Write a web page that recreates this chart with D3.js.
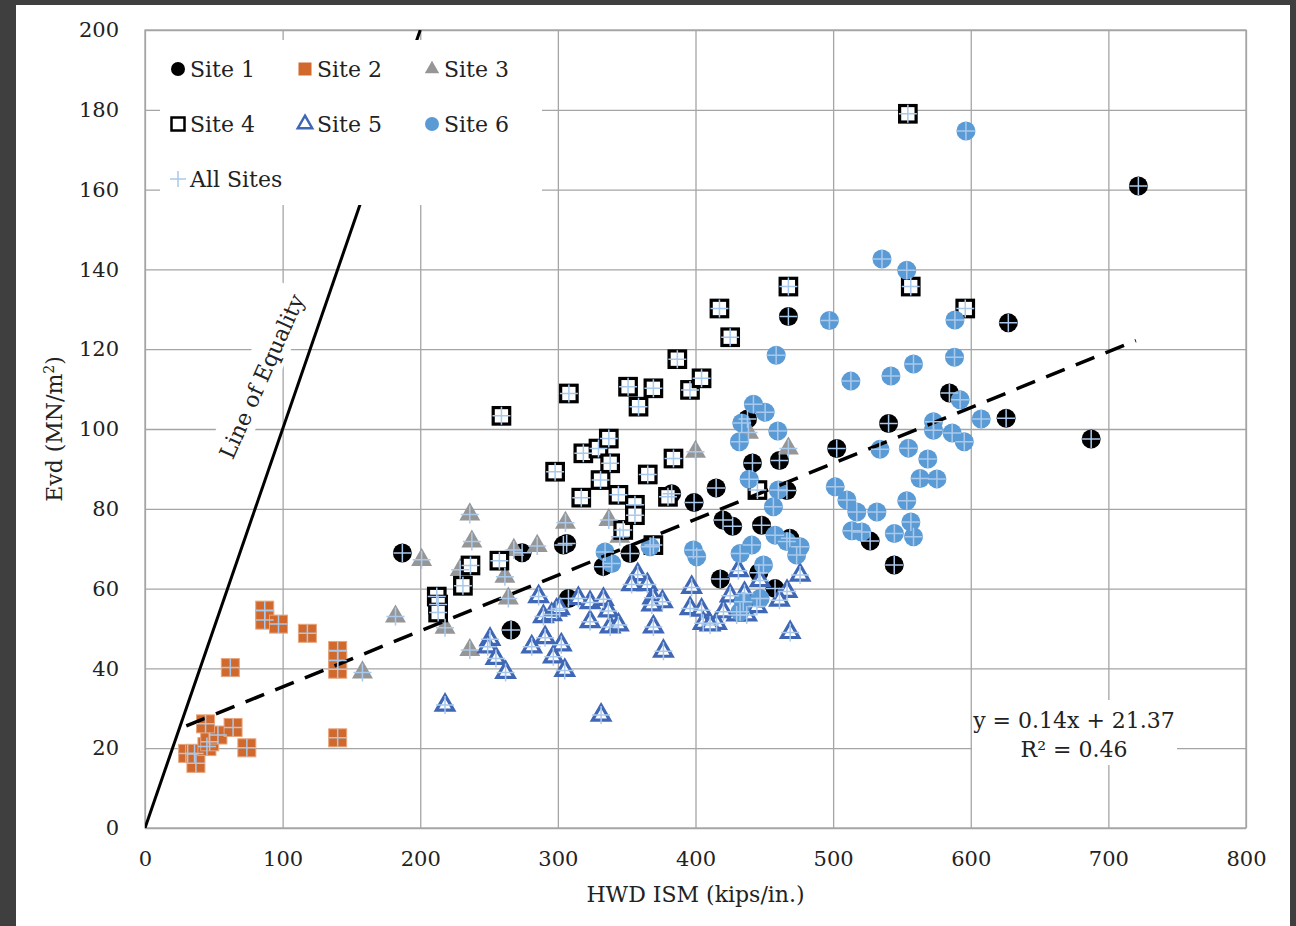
<!DOCTYPE html>
<html>
<head>
<meta charset="utf-8">
<script src="https://cdn.jsdelivr.net/npm/d3@7"></script>
<style>
  body { margin: 0; background: #3f3f3f; }
  #graf { position: absolute; left: 16px; top: 5px; width: 1274px; height: 921px; background: #fff; }
  svg { position: absolute; left: -16px; top: -5px; }
  text { font-family: "DejaVu Serif", serif; fill: #222; }
</style>
</head>
<body>
<div id="graf"></div>
<script>
// Datos (HWD ISM kips/in., Evd MN/m2)
const site1 = [[187,68.9],[266,49.6],[274,69],[304,70.9],[306.4,71.3],[307.7,57.5],[333,65.5],[352.5,68.8],[382.7,83.8],[399,81.6],[415,85.2],[418,62.4],[420,77.2],[427,75.6],[437.8,102.5],[441.4,91.5],[446,64],[448,75.9],[457.8,60],[461,92.1],[466.4,84.6],[468.5,72.6],[467.5,128.2],[502.6,95.1],[526.9,71.9],[544.4,65.9],[540.3,101.4],[584.5,109],[625.7,102.7],[627.3,126.6],[687.5,97.5],[721.8,160.9]]
const site2 = [[31,18.7],[36,18.7],[37,16.2],[45,20.4],[47,21.6],[53,23.3],[44,26.1],[64,25.2],[74,20.1],[62,40.2],[87,54.6],[87,52.1],[97,51.1],[118,48.8],[140,44.5],[140,42],[140,39.8],[140,22.6]]
const site3 = [[158,39],[182,53],[201,67.2],[218,50.2],[229,64.7],[236,78.6],[237.5,71.8],[236,44.6],[261.5,63],[264,57.5],[268,69.7],[285,70.7],[305.5,76.5],[337,77.2],[345,73],[400,94.3],[438.5,99.1],[467.5,95.1]]
const site4 = [[212,58],[213,56],[213,54],[231,60.7],[236.5,65.8],[257.5,67],[259,103.3],[298,89.3],[308,108.9],[317,82.8],[318.5,93.9],[329.5,95.1],[331,87.2],[337,97.6],[338,91.4],[344,83.5],[347.5,74.7],[351,110.6],[356,81],[356,78.4],[358.6,105.6],[365.3,88.6],[369.4,70.9],[369.4,110.2],[380,83],[384,92.6],[386.8,117.5],[396,109.8],[404.4,112.7],[417.4,130.2],[425.2,123],[445,84.7],[467.5,135.7],[554.3,179],[556.4,135.7],[596,130.2]]
const site5 = [[218,30.8],[250.7,47.3],[249,45.4],[255,42.5],[262,39],[281,45.4],[290.7,47.7],[286,58],[289.5,53],[295.5,53.5],[299,54.6],[296.7,42.9],[302.5,45.9],[305,39.5],[301.2,55],[314.9,57.5],[323.4,56.5],[323.4,51.7],[333.1,57.3],[336.7,54.4],[331.4,28.3],[338,50.4],[344,50.9],[358,63.5],[353.6,61],[365,61],[369,57.7],[376,56.7],[368.2,55.9],[369.4,50.4],[376.7,44.3],[397.2,60.3],[396.1,55],[404.4,54.6],[405.6,51.3],[415.3,51.3],[410.6,50.9],[420.3,54.2],[425.2,58.2],[431.2,64.5],[435.6,58.8],[446.9,62],[444.6,55.5],[437.2,53.4],[429.9,53.4],[476,63.4],[466.5,59.3],[461,57.1],[468.8,49]]
const site6 = [[596.5,174.7],[535.5,142.6],[553.5,139.8],[497.3,127.2],[588.5,127.3],[458.6,118.5],[588.2,118],[558.4,116.3],[512.9,112],[542,113.3],[592.3,107.3],[607.6,102.5],[442.1,106.2],[450.6,104.2],[459.8,99.5],[433.6,101.5],[431.9,96.8],[572.9,101.8],[572.9,99.7],[586.5,99],[595.3,96.8],[534,94.9],[554.7,95.2],[568.8,92.5],[439,87.4],[563.2,87.6],[575.4,87.5],[501.5,85.5],[510,82.2],[517.2,79.2],[531.8,79.2],[553.5,82],[460.2,84.7],[456.6,80.5],[513.6,74.5],[520.8,74.2],[544.5,73.8],[556.5,76.7],[558.4,73],[457.8,73.4],[466.4,71.8],[476,70.5],[473.5,68.4],[440.9,70.9],[432.4,68.8],[449.4,65.9],[398.5,69.7],[400.9,68],[334.3,69.2],[339.1,66.3],[367,70.5],[434.7,56.7],[446.9,57.5],[432.4,54.2]]

const xTicks = [0, 100, 200, 300, 400, 500, 600, 700, 800]
const yTicks = [0, 20, 40, 60, 80, 100, 120, 140, 160, 180, 200]
const trendSlope = 0.14
const trendIntercept = 21.37
const trendRange = [30, 720]
const equalityRange = [0, 200]

// Dimensiones
const margins = { top: 30, right: 50, bottom: 98, left: 145 }
const anchoTotal = 1296
const altoTotal = 926
const ancho = anchoTotal - margins.left - margins.right
const alto = altoTotal - margins.top - margins.bottom

const svg = d3.select("#graf").append("svg").attr("width", anchoTotal).attr("height", altoTotal)
const g = svg.append("g").attr("transform", `translate(${margins.left}, ${margins.top})`)

// Escaladores
const x = d3.scaleLinear().domain([0, 800]).range([0, ancho])
const y = d3.scaleLinear().domain([0, 200]).range([alto, 0])

g.append("clipPath").attr("id", "clip").append("rect").attr("width", ancho).attr("height", alto)

// Rejilla y ejes
const gridColor = "#a5a5a5"
const xAxis = g.append("g").attr("transform", `translate(0, ${alto})`)
  .call(d3.axisBottom(x).tickValues(xTicks).tickSize(-alto).tickFormat(d3.format("d")).tickPadding(19))
const yAxis = g.append("g")
  .call(d3.axisLeft(y).tickValues(yTicks).tickSize(-ancho).tickFormat(d3.format("d")).tickPadding(26))
;[xAxis, yAxis].forEach((a) => {
  a.select(".domain").remove()
  a.selectAll("line").attr("stroke", gridColor).attr("stroke-width", 1.3)
  a.selectAll("text").attr("font-size", 21).attr("font-family", "DejaVu Serif").attr("fill", "#222")
})
xAxis.selectAll("text").attr("dy", "0.9em")
g.append("rect").attr("width", ancho).attr("height", alto).attr("fill", "none").attr("stroke", gridColor).attr("stroke-width", 1.3)

// Titulos de ejes
svg.append("text").attr("x", margins.left + x(400)).attr("y", 902).attr("text-anchor", "middle")
  .attr("font-size", 22).text("HWD ISM (kips/in.)")
const yt = svg.append("text").attr("transform", `translate(62, ${margins.top + y(100)}) rotate(-90)`)
  .attr("text-anchor", "middle").attr("font-size", 22)
yt.append("tspan").text("Evd (MN/m")
yt.append("tspan").attr("font-size", 14).attr("baseline-shift", "super").text("2")
yt.append("tspan").text(")")

const plot = g.append("g").attr("clip-path", "url(#clip)")

// Marcadores
const tri = d3.symbol().type(d3.symbolTriangle)
const px = (d) => x(d[0])
const py = (d) => y(d[1])

const drawCircles = (data, fill) => plot.append("g").selectAll("circle").data(data).join("circle")
  .attr("cx", px).attr("cy", py).attr("r", 9.5).attr("fill", fill)
const drawSquares = (data, fill, stroke, sw, size) => plot.append("g").selectAll("rect").data(data).join("rect")
  .attr("x", (d) => px(d) - size / 2).attr("y", (d) => py(d) - size / 2)
  .attr("width", size).attr("height", size).attr("fill", fill).attr("stroke", stroke).attr("stroke-width", sw)
const drawTriangles = (data, fill, stroke, sw, area) => plot.append("g").selectAll("path").data(data).join("path")
  .attr("transform", (d) => `translate(${px(d)}, ${py(d)})`)
  .attr("d", tri.size(area)).attr("fill", fill).attr("stroke", stroke).attr("stroke-width", sw)

drawCircles(site1, "#000")
drawSquares(site2, "#d0692b", "#e8a57c", 1, 18)
drawTriangles(site3, "#969696", "none", 0, 190)
drawSquares(site4, "#fff", "#000", 3.2, 16.5)
drawTriangles(site5, "#fff", "#3f67b5", 3.2, 130)
drawCircles(site6, "#5b9bd5")

// Linea de igualdad y tendencia
const line = d3.line().x((d) => x(d[0])).y((d) => y(d[1]))
plot.append("path").attr("d", line(equalityRange.map((v) => [v, v])))
  .attr("stroke", "#000").attr("stroke-width", 3).attr("fill", "none")
plot.append("path").attr("d", line(trendRange.map((v) => [v, trendSlope * v + trendIntercept])))
  .attr("stroke", "#000").attr("stroke-width", 3.5).attr("stroke-dasharray", "20,12").attr("fill", "none")

// All Sites (+)
const allSites = [].concat(site1, site2, site3, site4, site5, site6)
plot.append("g").selectAll("path").data(allSites).join("path")
  .attr("transform", (d) => `translate(${px(d)}, ${py(d)})`)
  .attr("d", "M-9,0H9M0,-9V9").attr("stroke", "#a9c9ec").attr("stroke-width", 1.5)

// Etiqueta de la linea de igualdad
const eq = g.append("g").attr("transform", `translate(${x(86)}, ${y(113)}) rotate(-66)`)
eq.append("rect").attr("x", -94).attr("y", -22).attr("width", 188).attr("height", 36).attr("fill", "#fff")
eq.append("text").attr("text-anchor", "middle").attr("y", 6).attr("font-size", 22).text("Line of Equality")

// Leyenda
const leg = svg.append("g")
leg.append("rect").attr("x", 160).attr("y", 40).attr("width", 382).attr("height", 165).attr("fill", "#fff")
const legendItems = [
  { name: "Site 1", col: 0, row: 0, kind: "circle", fill: "#000" },
  { name: "Site 2", col: 1, row: 0, kind: "square", fill: "#d0692b", stroke: "none", sw: 0 },
  { name: "Site 3", col: 2, row: 0, kind: "tri", fill: "#969696", stroke: "none", sw: 0 },
  { name: "Site 4", col: 0, row: 1, kind: "square", fill: "#fff", stroke: "#000", sw: 2.5 },
  { name: "Site 5", col: 1, row: 1, kind: "tri", fill: "#fff", stroke: "#3f67b5", sw: 2.5 },
  { name: "Site 6", col: 2, row: 1, kind: "circle", fill: "#5b9bd5" },
  { name: "All Sites", col: 0, row: 2, kind: "plus" },
]
legendItems.forEach((it) => {
  const cx = 178 + it.col * 127
  const cy = 69 + it.row * 55
  const m = leg.append("g").attr("transform", `translate(${cx}, ${cy})`)
  if (it.kind === "circle") m.append("circle").attr("r", 7).attr("fill", it.fill)
  if (it.kind === "square") m.append("rect").attr("x", -6.5).attr("y", -6.5).attr("width", 13).attr("height", 13)
    .attr("fill", it.fill).attr("stroke", it.stroke).attr("stroke-width", it.sw)
  if (it.kind === "tri") m.append("path").attr("d", tri.size(90)).attr("fill", it.fill)
    .attr("stroke", it.stroke).attr("stroke-width", it.sw)
  if (it.kind === "plus") m.append("path").attr("d", "M-8,0H8M0,-8V8").attr("stroke", "#a9c9ec").attr("stroke-width", 1.5)
  leg.append("text").attr("x", cx + 12).attr("y", cy + 8).attr("font-size", 22).text(it.name)
})

// Ecuacion de tendencia
svg.append("rect").attr("x", 972).attr("y", 700).attr("width", 205).attr("height", 65).attr("fill", "#fff")
svg.append("text").attr("x", 1074).attr("y", 728).attr("text-anchor", "middle").attr("font-size", 22).text("y = 0.14x + 21.37")
svg.append("text").attr("x", 1074).attr("y", 757).attr("text-anchor", "middle").attr("font-size", 22).text("R² = 0.46")
</script>
</body>
</html>
